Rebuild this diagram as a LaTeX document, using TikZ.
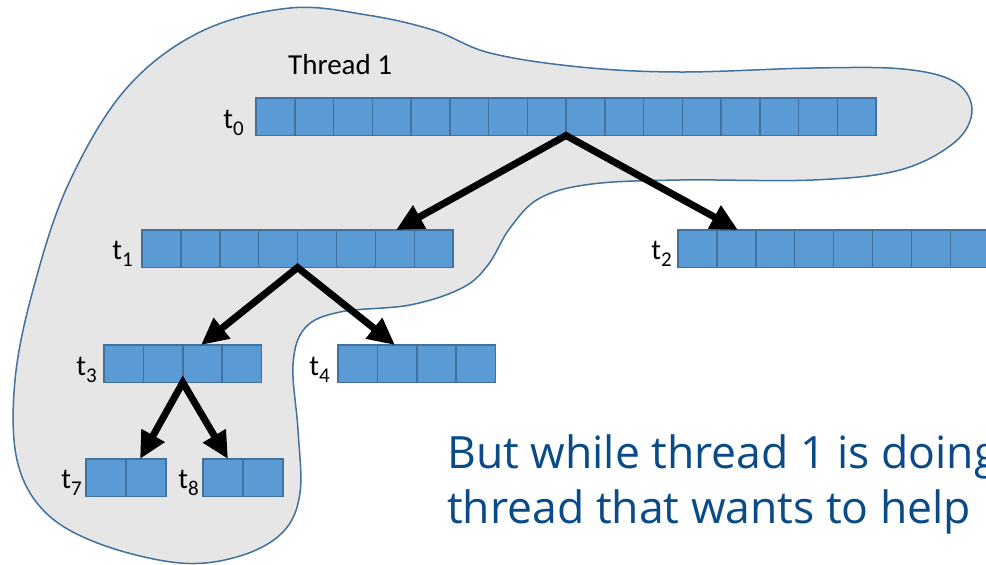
\documentclass[tikz,border=0pt]{standalone}
\usepackage{fontspec}
\setmainfont{Carlito}
\newfontfamily\notefont{Open Sans}
\usetikzlibrary{arrows.meta,calc}

\definecolor{cellfill}{HTML}{5B9BD5}
\definecolor{cellline}{HTML}{41719C}
\definecolor{regionfill}{HTML}{E7E6E6}
\definecolor{regionline}{HTML}{41719C}
\definecolor{notecolor}{HTML}{0A4B87}

% subscript set low and fairly large, as in the slide labels
\newcommand\lowsub[1]{\raisebox{-7pt}{\fontsize{21}{21}\selectfont #1}}

\tikzset{
  bar/.style={draw=cellline, line width=1.5pt, fill=cellfill,
    minimum height=37.5pt, inner sep=0pt, outer sep=0pt, anchor=north west},
  divider/.style={draw=cellline, line width=1.5pt},
  split/.style={draw=black, line width=7pt, miter limit=20,
    {Triangle[length=27pt,width=25pt]}-{Triangle[length=27pt,width=25pt]}},
  tlabel/.style={anchor=base east, inner sep=0pt, font=\fontsize{29}{29}\selectfont},
  note/.style={anchor=base west, inner sep=0pt, text=notecolor,
    font=\notefont\fontsize{44.5}{44.5}\selectfont},
}

% a row of n equal cells: name, left x, top y, n, cell width
\newcommand\cellbar[5]{%
  \node[bar, minimum width=#4*#5pt] (#1) at (#2,#3) {};
  \pgfmathtruncatemacro\lastcell{#4-1}%
  \foreach \k in {1,...,\lastcell}
    \draw[divider] ($(#1.north west)+(\k*#5,0)$) -- ($(#1.south west)+(\k*#5,0)$);
}

\begin{document}
\begin{tikzpicture}[x=1pt, y=-1pt]
\useasboundingbox (0,0) rectangle (986,565);
\clip (0,0) rectangle (986,565);

% region handled by thread 1
\draw[regionline, line width=1.5pt, fill=regionfill]
  plot[smooth cycle, tension=0.6] coordinates {
    (290,8) (367,15) (433,30) (490,53) (580,67) (680,72)
    (813,68) (903,69) (955,82) (972,110) (955,142) (900,170)
    (813,180) (680,180) (592,184) (540,198) (510,228) (488,265)
    (462,288) (410,305) (340,312) (305,328) (293,365) (298,430)
    (300,493) (283,532) (240,556) (180,563) (100,544) (45,512)
    (17,460) (15,380) (33,290) (68,185) (125,90) (200,32)};

\node[anchor=base west, inner sep=0pt, font=\fontsize{29}{29}\selectfont]
  (thr) at (288,74) {Thread 1};

% task ranges
\cellbar{t0}{256}{98}{16}{38.75}
\cellbar{t1}{142}{230}{8}{38.9}
\cellbar{t2}{678}{230}{8}{38.9}
\cellbar{t3}{104}{345}{4}{39.4}
\cellbar{t4}{338}{345}{4}{39.4}
\cellbar{t7}{86}{459}{2}{40}
\cellbar{t8}{203}{459}{2}{40}

% labels
\node[tlabel] (l0) at ($(t0.west)+(-12,12)$) {t\lowsub{0}};
\node[tlabel] (l1) at ($(t1.west)+(-9,11)$) {t\lowsub{1}};
\node[tlabel] (l2) at ($(t2.west)+(-6,11)$) {t\lowsub{2}};
\node[tlabel] (l3) at ($(t3.west)+(-7,12)$) {t\lowsub{3}};
\node[tlabel] (l4) at ($(t4.west)+(-8,12)$) {t\lowsub{4}};
\node[tlabel] (l7) at ($(t7.west)+(-4,11)$) {t\lowsub{7}};
\node[tlabel] (l8) at ($(t8.west)+(-4,11)$) {t\lowsub{8}};

% splits
\draw[split] ([xshift=254pt]t1.north west) -- (t0.south) -- ([xshift=60pt]t2.north west);
\draw[split] ([xshift=97pt]t3.north west) -- (t1.south) -- ([xshift=57pt]t4.north west);
\draw[split] ([xshift=54pt]t7.north west) -- (t3.south) -- ([xshift=25pt]t8.north west);

% caption text
\node[note] (n1) at (447,468) {But while thread 1 is doing};
\node[note] (n2) at (447,523) {thread that wants to help};
\end{tikzpicture}
\end{document}
